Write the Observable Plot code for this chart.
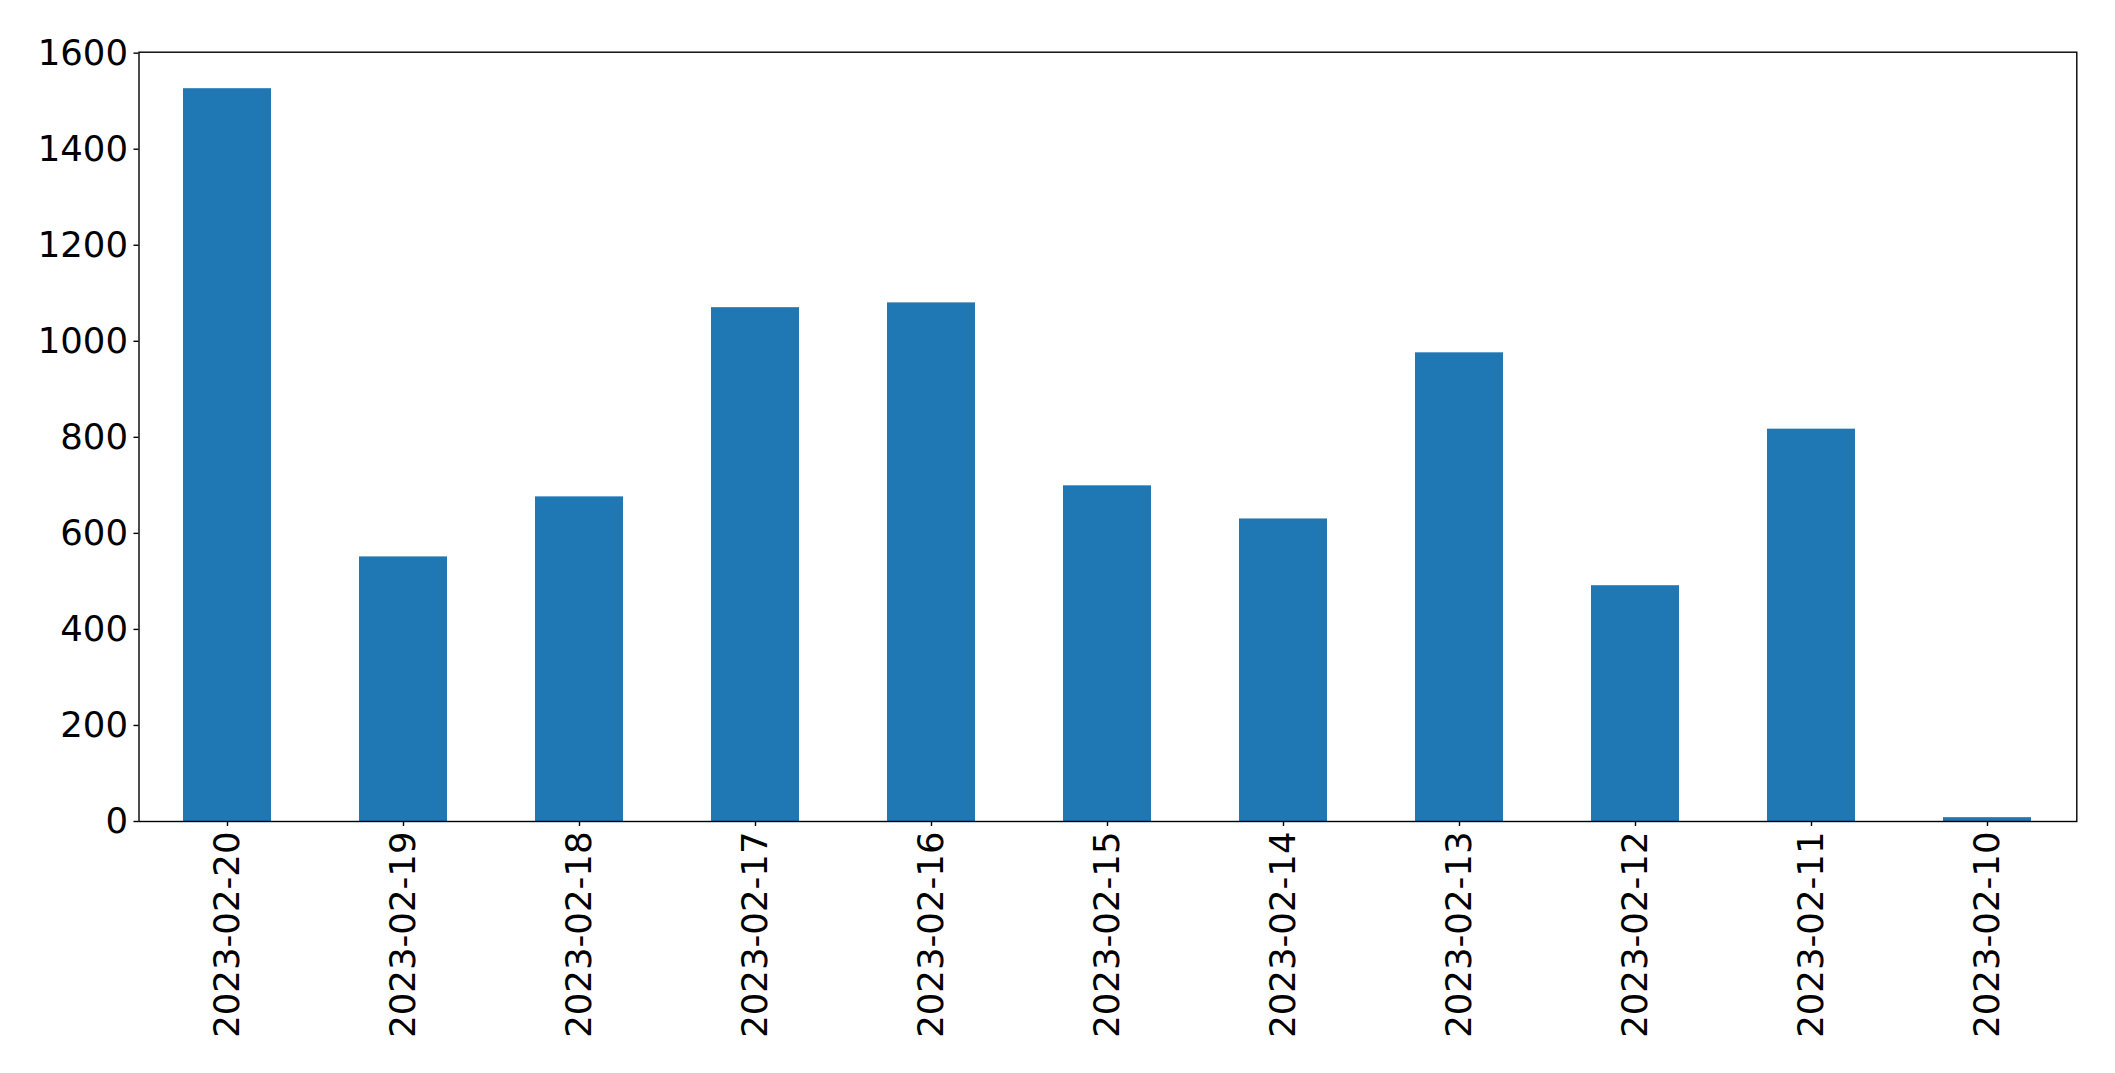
<!DOCTYPE html>
<html>
<head>
<meta charset="utf-8">
<script src="https://cdn.jsdelivr.net/npm/d3@7"></script>
<script src="https://cdn.jsdelivr.net/npm/@observablehq/plot@0.6"></script>
<style>
  html, body { margin: 0; padding: 0; background: #fff; }
  #chart svg { display: block; }
</style>
</head>
<body>
<div id="chart"></div>
<script>
const dates = ["2023-02-20","2023-02-19","2023-02-18","2023-02-17","2023-02-16","2023-02-15","2023-02-14","2023-02-13","2023-02-12","2023-02-11","2023-02-10"];
const counts = [1526, 551, 676, 1070, 1080, 699, 630, 976, 491, 817, 8];
const yTicks = [0, 200, 400, 600, 800, 1000, 1200, 1400, 1600];

const data = dates.map((d, i) => ({date: d, count: counts[i]}));

const chart = Plot.plot({
  width: 2115,
  height: 1073,
  marginLeft: 138.5,
  marginRight: 38.7,
  marginTop: 51.7,
  marginBottom: 252,
  style: {fontFamily: "DejaVu Sans", color: "black", background: "white"},
  x: {domain: dates, paddingInner: 0.5, paddingOuter: 0.25, align: 0.5},
  y: {domain: [0, 1602]},
  marks: [
    Plot.barY(data, {x: "date", y: "count", fill: "#1f77b4"}),
    Plot.axisY({ticks: yTicks, tickFormat: d => String(d), tickSize: 5, tickPadding: 6, fontSize: 35.5, label: null, stroke: "black", strokeWidth: 1.4}),
    Plot.axisX({tickSize: 5, tickPadding: 5, tickRotate: -90, fontSize: 35.5, label: null, stroke: "black", strokeWidth: 1.4}),
    Plot.frame({stroke: "black", strokeWidth: 1.4})
  ]
});
document.getElementById("chart").appendChild(chart);
</script>
</body>
</html>
